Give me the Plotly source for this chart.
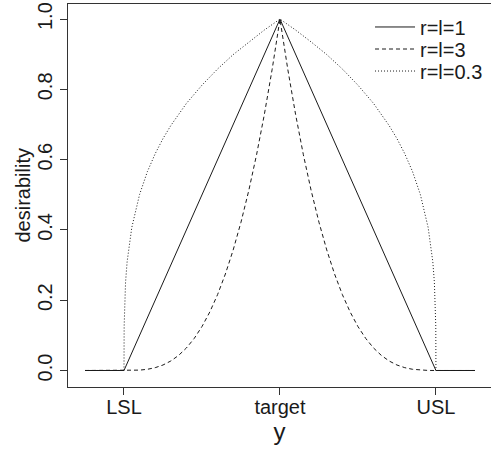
import plotly.graph_objects as go

# x positions in spec units: LSL = 0, target = 1, USL = 2
tick_vals = [0, 1, 2]
tick_text = ["LSL", "target", "USL"]

# r = l = 1 (linear)
x_r1 = [-0.25, 0.0, 1.0, 2.0, 2.25]
d_r1 = [0.0, 0.0, 1.0, 0.0, 0.0]

# r = l = 3
x_r3 = [-0.25, 0.0, 0.05, 0.1, 0.15, 0.2, 0.25, 0.3, 0.35, 0.4, 0.45, 0.5,
        0.55, 0.6, 0.65, 0.7, 0.75, 0.8, 0.85, 0.9, 0.95, 1.0,
        1.05, 1.1, 1.15, 1.2, 1.25, 1.3, 1.35, 1.4, 1.45, 1.5,
        1.55, 1.6, 1.65, 1.7, 1.75, 1.8, 1.85, 1.9, 1.95, 2.0, 2.25]
d_r3 = [0.0, 0.0, 0.0001, 0.001, 0.0034, 0.008, 0.0156, 0.027, 0.0429, 0.064, 0.0911, 0.125,
        0.1664, 0.216, 0.2746, 0.343, 0.4219, 0.512, 0.6141, 0.729, 0.8574, 1.0,
        0.8574, 0.729, 0.6141, 0.512, 0.4219, 0.343, 0.2746, 0.216, 0.1664, 0.125,
        0.0911, 0.064, 0.0429, 0.027, 0.0156, 0.008, 0.0034, 0.001, 0.0001, 0.0, 0.0]

# r = l = 0.3
x_r03 = [-0.25, 0.0, 0.001, 0.003, 0.005, 0.01, 0.02, 0.05, 0.1, 0.15, 0.2, 0.25, 0.3, 0.35,
         0.4, 0.5, 0.6, 0.7, 0.8, 0.9, 1.0,
         1.1, 1.2, 1.3, 1.4, 1.5, 1.6, 1.65, 1.7, 1.75, 1.8, 1.85, 1.9, 1.95, 1.98,
         1.99, 1.995, 1.997, 1.999, 2.0, 2.25]
d_r03 = [0.0, 0.0, 0.126, 0.175, 0.204, 0.251, 0.309, 0.407, 0.501, 0.566, 0.617, 0.660, 0.697, 0.730,
         0.760, 0.812, 0.858, 0.899, 0.935, 0.969, 1.0,
         0.969, 0.935, 0.899, 0.858, 0.812, 0.760, 0.730, 0.697, 0.660, 0.617, 0.566, 0.501, 0.407, 0.309,
         0.251, 0.204, 0.175, 0.126, 0.0, 0.0]

y_ticks = [0.0, 0.2, 0.4, 0.6, 0.8, 1.0]

FONT = "Liberation Sans, Arial, sans-serif"
LINE = "#1a1a1a"

fig = go.Figure()
fig.add_trace(go.Scatter(x=x_r1, y=d_r1, mode="lines", name="r=l=1", legend="legend",
                         line=dict(color=LINE, width=1)))
fig.add_trace(go.Scatter(x=x_r3, y=d_r3, mode="lines", name="r=l=3", legend="legend2",
                         line=dict(color=LINE, width=1, dash="4px,3px")))
fig.add_trace(go.Scatter(x=x_r03, y=d_r03, mode="lines", name="r=l=0.3", legend="legend3",
                         line=dict(color=LINE, width=1, dash="1px,2px")))

leg_common = dict(x=0.714, xanchor="left", yanchor="middle",
                  bgcolor="rgba(0,0,0,0)", font=dict(size=20), itemwidth=40)

fig.update_layout(
    width=491, height=451,
    margin=dict(l=68, r=0, t=4, b=64),
    paper_bgcolor="white", plot_bgcolor="white",
    font=dict(family=FONT, size=20, color="#1a1a1a"),
    showlegend=True,
    legend=dict(y=0.940, **leg_common),
    legend2=dict(y=0.8825, **leg_common),
    legend3=dict(y=0.825, **leg_common),
    xaxis=dict(range=[-0.359, 2.353], tickmode="array", tickvals=tick_vals,
               ticktext=tick_text, showgrid=False, zeroline=False,
               showline=True, mirror=True, linecolor="#333", linewidth=1,
               ticks="outside", ticklen=7, tickcolor="#333",
               ticklabelstandoff=-5,
               title=dict(text="y", standoff=4),
               tickfont=dict(size=20)),
    yaxis=dict(range=[-0.047, 1.043], tickmode="array", tickvals=y_ticks,
               ticktext=[f"{v:.1f}" for v in y_ticks], tickangle=-90,
               showgrid=False, zeroline=False,
               showline=True, mirror=False, linecolor="#333", linewidth=1,
               ticks="outside", ticklen=7, tickcolor="#333",
               tickfont=dict(size=20)),
    annotations=[dict(text="desirability", xref="paper", yref="paper",
                      x=0, y=0.5, xanchor="center", yanchor="middle",
                      xshift=-46, textangle=-90, showarrow=False,
                      font=dict(size=20))],
)

fig.write_html("out.html")
